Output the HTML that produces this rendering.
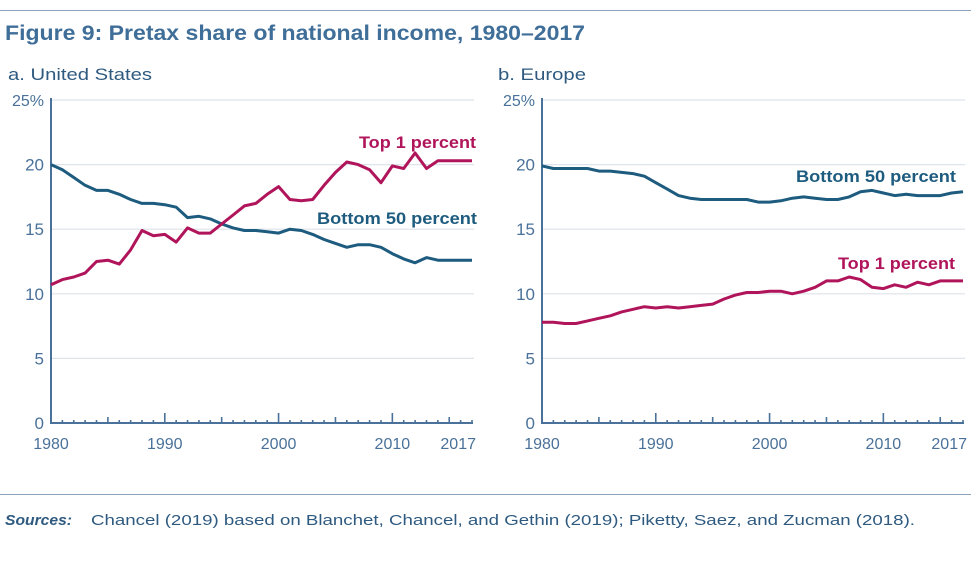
<!DOCTYPE html>
<html><head><meta charset="utf-8"><style>
body{margin:0;background:#fff;width:971px;height:565px;overflow:hidden;font-family:"Liberation Sans",sans-serif}
svg text{font-family:"Liberation Sans",sans-serif}
</style></head><body>
<svg id="c" width="971" height="565">
<line x1="0" y1="10.5" x2="971" y2="10.5" stroke="#8aa3bb" stroke-width="1"/>
<text x="5" y="40" font-size="21.5" font-weight="bold" fill="#3f6e98" textLength="580" lengthAdjust="spacingAndGlyphs">Figure 9: Pretax share of national income, 1980–2017</text>
<text x="8" y="80" font-size="17" fill="#2e5a80" textLength="144" lengthAdjust="spacingAndGlyphs">a. United States</text>
<text x="498" y="80" font-size="17" fill="#2e5a80" textLength="88" lengthAdjust="spacingAndGlyphs">b. Europe</text>
<line x1="0" y1="494.5" x2="971" y2="494.5" stroke="#8aa3bb" stroke-width="1"/>
<text x="5" y="525" font-size="14.5" font-weight="bold" font-style="italic" fill="#2e5a80" textLength="67" lengthAdjust="spacingAndGlyphs">Sources:</text>
<text x="91" y="525" font-size="14.5" fill="#2e5a80" textLength="824" lengthAdjust="spacingAndGlyphs">Chancel (2019) based on Blanchet, Chancel, and Gethin (2019); Piketty, Saez, and Zucman (2018).</text>
<g id="pa"></g>
<g id="pb"></g>
</svg>
<script>
const years = [];
for (let y = 1980; y <= 2017; y++) years.push(y);
const yTicks = [0, 5, 10, 15, 20, 25];
const xTickLabels = [1980, 1990, 2000, 2010, 2017];
const usTop1 = [10.7,11.1,11.3,11.6,12.5,12.6,12.3,13.4,14.9,14.5,14.6,14.0,15.1,14.7,14.7,15.4,16.1,16.8,17.0,17.7,18.3,17.3,17.2,17.3,18.4,19.4,20.2,20.0,19.6,18.6,19.9,19.7,20.9,19.7,20.3,20.3,20.3,20.3];
const usBottom50 = [20.0,19.6,19.0,18.4,18.0,18.0,17.7,17.3,17.0,17.0,16.9,16.7,15.9,16.0,15.8,15.4,15.1,14.9,14.9,14.8,14.7,15.0,14.9,14.6,14.2,13.9,13.6,13.8,13.8,13.6,13.1,12.7,12.4,12.8,12.6,12.6,12.6,12.6];
const euBottom50 = [19.9,19.7,19.7,19.7,19.7,19.5,19.5,19.4,19.3,19.1,18.6,18.1,17.6,17.4,17.3,17.3,17.3,17.3,17.3,17.1,17.1,17.2,17.4,17.5,17.4,17.3,17.3,17.5,17.9,18.0,17.8,17.6,17.7,17.6,17.6,17.6,17.8,17.9];
const euTop1 = [7.8,7.8,7.7,7.7,7.9,8.1,8.3,8.6,8.8,9.0,8.9,9.0,8.9,9.0,9.1,9.2,9.6,9.9,10.1,10.1,10.2,10.2,10.0,10.2,10.5,11.0,11.0,11.3,11.1,10.5,10.4,10.7,10.5,10.9,10.7,11.0,11.0,11.0];

const NS = "http://www.w3.org/2000/svg";
const BLUE = "#1d5b7f", RED = "#b0145a", AX = "#4a7199";
function mk(tag, attrs, parent){const e=document.createElementNS(NS,tag);for(const k in attrs)e.setAttribute(k,attrs[k]);parent.appendChild(e);return e;}

function panel(g, x0, x1, series, labels){
  const yTop = 100, yBot = 423;
  const xs = y => x0 + (y - 1980) / 37 * (x1 - x0);
  const ys = v => yBot - v / 25 * (yBot - yTop);
  yTicks.forEach(t=>{
    if(t>0){const l=mk("line",{x1:x0,x2:x1+2,y1:ys(t),y2:ys(t),stroke:"#dde3ea","stroke-width":1.2},g);
    
    }
    const tx=mk("text",{x:x0-7,y:ys(t)+6,"font-size":17,fill:AX,"text-anchor":"end"},g);
    
    
    tx.textContent = t===25 ? "25%" : String(t);
    if(t===25){tx.setAttribute("font-size","16");}
  });
  years.forEach(y=>{
    const h = (y%10===0)?10:(y%5===0?6:3);
    const l=mk("line",{x1:xs(y),x2:xs(y),y1:yBot,y2:yBot-h,stroke:AX,"stroke-width":1.6},g);
    
    
  });
  xTickLabels.forEach(y=>{
    const tx=mk("text",{x:xs(y),y:449,"font-size":16,fill:AX,"text-anchor":y===2017?"end":"middle"},g);
    if(y===2017) tx.setAttribute("x", xs(y)+4);
    
    
    tx.textContent=y;
  });
  const ya=mk("line",{x1:x0,x2:x0,y1:yTop-2,y2:yBot+1,stroke:AX,"stroke-width":2},g);
  
  
  const xa=mk("line",{x1:x0-1,x2:x1+1,y1:yBot,y2:yBot,stroke:AX,"stroke-width":2},g);
  
  
  series.forEach(s=>{
    const d=s.vals.map((v,i)=>(i?"L":"M")+xs(years[i]).toFixed(1)+","+ys(v).toFixed(1)).join("");
    const p=mk("path",{d:d,fill:"none",stroke:s.color,"stroke-width":3,"stroke-linejoin":"round"},g);
    
    
  });
  labels.forEach(lb=>{
    const t=mk("text",{x:lb.x,y:lb.y,"font-size":17,"font-weight":"bold",fill:lb.color,"text-anchor":"end",textLength:lb.w,lengthAdjust:"spacingAndGlyphs"},g);
    
    
    t.textContent=lb.text;
  });
}
panel(document.getElementById("pa"),51,472,
 [{vals:usBottom50,color:BLUE,name:"us-bottom-50-line"},{vals:usTop1,color:RED,name:"us-top-1-line"}],
 [{x:476,y:148,w:117,text:"Top 1 percent",color:RED,name:"us-top-1-label"},{x:477,y:224,w:160,text:"Bottom 50 percent",color:BLUE,name:"us-bottom-50-label"}]);
panel(document.getElementById("pb"),542,963,
 [{vals:euBottom50,color:BLUE,name:"europe-bottom-50-line"},{vals:euTop1,color:RED,name:"europe-top-1-line"}],
 [{x:956,y:182,w:160,text:"Bottom 50 percent",color:BLUE,name:"europe-bottom-50-label"},{x:955,y:269,w:117,text:"Top 1 percent",color:RED,name:"europe-top-1-label"}]);
</script>
</body></html>
